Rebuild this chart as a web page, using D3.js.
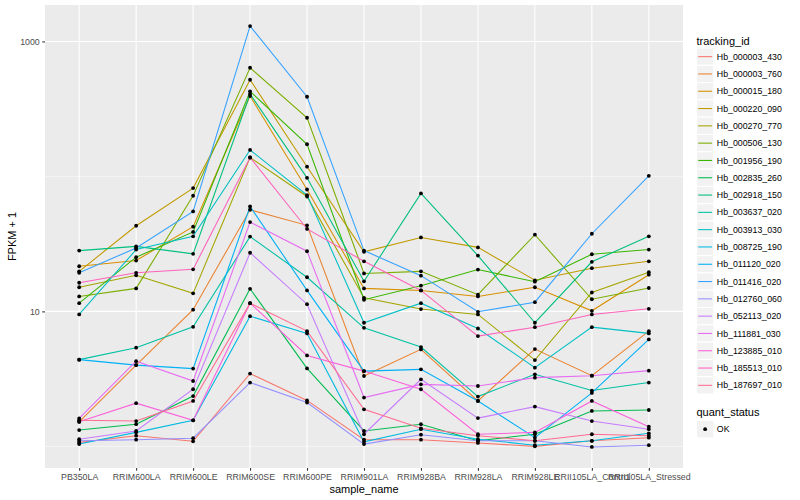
<!DOCTYPE html>
<html>
<head>
<meta charset="utf-8">
<script src="https://cdn.jsdelivr.net/npm/d3@7"></script>
<style>
body { margin: 0; background: #fff; }
text { font-family: "Liberation Sans", Arial, Helvetica, sans-serif; }
</style>
</head>
<body>
<svg id="chart"></svg>
<script>
const width = 800;
const height = 500;

const samples = ['PB350LA', 'RRIM600LA', 'RRIM600LE', 'RRIM600SE', 'RRIM600PE', 'RRIM901LA',
    'RRIM928BA', 'RRIM928LA', 'RRIM928LE', 'RRII105LA_Control', 'RRII105LA_Stressed'];

const trackingIds = ['Hb_000003_430', 'Hb_000003_760', 'Hb_000015_180', 'Hb_000220_090',
    'Hb_000270_770', 'Hb_000506_130', 'Hb_001956_190', 'Hb_002835_260', 'Hb_002918_150',
    'Hb_003637_020', 'Hb_003913_030', 'Hb_008725_190', 'Hb_011120_020', 'Hb_011416_020',
    'Hb_012760_060', 'Hb_052113_020', 'Hb_111881_030', 'Hb_123885_010', 'Hb_185513_010',
    'Hb_187697_010'];

// FPKM + 1, one value per sample (same order as samples)
const hb_000003_430 = [1.07, 1.20, 1.09, 3.46, 2.19, 1.12, 1.12, 1.06, 1.00, 1.10, 1.16];
const hb_000003_760 = [1.52, 4.00, 10.3, 56.6, 43.4, 3.32, 5.23, 2.17, 5.26, 3.34, 7.14];
const hb_000015_180 = [21.6, 23.8, 42.4, 394, 80.0, 14.8, 14.3, 12.9, 15.1, 10.1, 18.7];
const hb_000220_090 = [19.8, 43.1, 81.9, 520, 118, 27.6, 35.3, 29.8, 17.0, 20.9, 23.5];
const hb_000270_770 = [15.1, 18.5, 13.6, 138, 71.0, 12.6, 10.4, 9.49, 4.36, 13.8, 19.5];
const hb_000506_130 = [12.9, 14.8, 71.9, 638, 272, 19.1, 19.8, 13.3, 37.0, 12.3, 14.9];
const hb_001956_190 = [11.5, 25.2, 38.8, 427, 173, 12.2, 15.5, 20.4, 16.6, 26.5, 28.7];
const hb_002835_260 = [1.32, 1.46, 2.36, 14.7, 3.78, 1.30, 1.46, 1.10, 1.23, 1.83, 1.86];
const hb_002918_150 = [28.2, 30.3, 26.7, 408, 97.6, 16.7, 74.8, 25.9, 8.24, 23.3, 36.0];
const hb_003637_020 = [4.39, 5.38, 7.69, 35.8, 17.9, 7.56, 5.44, 2.34, 3.42, 2.59, 2.97];
const hb_003913_030 = [9.49, 28.7, 36.0, 157, 72.7, 8.24, 11.5, 7.47, 3.83, 7.64, 6.87];
const hb_008725_190 = [1.04, 1.27, 1.56, 9.21, 6.87, 1.08, 1.34, 1.13, 1.02, 1.10, 1.25];
const hb_011120_020 = [4.39, 4.00, 3.77, 59.9, 14.3, 3.61, 3.72, 2.17, 1.16, 2.49, 6.20];
const hb_011416_020 = [19.3, 29.5, 55.0, 1300, 389, 28.2, 18.4, 9.93, 11.7, 37.6, 101];
const hb_012760_060 = [1.10, 1.12, 1.15, 2.97, 2.11, 1.04, 1.22, 1.10, 1.10, 0.99, 1.02];
const hb_052113_020 = [1.13, 1.30, 2.65, 27.2, 11.3, 1.23, 3.14, 1.62, 1.97, 1.54, 1.34];
const hb_111881_030 = [1.61, 4.28, 3.05, 45.9, 27.9, 2.30, 2.88, 2.80, 3.23, 3.34, 3.64];
const hb_123885_010 = [1.52, 2.09, 1.56, 11.5, 4.72, 3.61, 2.65, 1.23, 1.27, 2.17, 1.40];
const hb_185513_010 = [16.3, 19.3, 20.5, 138, 40.8, 23.5, 14.3, 6.56, 7.64, 9.49, 10.45];
const hb_187697_010 = [1.56, 1.54, 2.17, 11.5, 7.14, 1.88, 1.36, 1.20, 1.10, 1.23, 1.20];

const seriesValues = [hb_000003_430, hb_000003_760, hb_000015_180, hb_000220_090, hb_000270_770,
    hb_000506_130, hb_001956_190, hb_002835_260, hb_002918_150, hb_003637_020, hb_003913_030,
    hb_008725_190, hb_011120_020, hb_011416_020, hb_012760_060, hb_052113_020, hb_111881_030,
    hb_123885_010, hb_185513_010, hb_187697_010];

const yMajorTicks = [10, 1000];
const yMinorTicks = [1, 100];

// ggplot hue palette for 20 levels
const palette = ['#F8766D', '#EA8331', '#D89000', '#C09B00', '#A3A500', '#7CAE00', '#39B600',
    '#00BB4E', '#00BF7D', '#00C1A3', '#00BFC4', '#00BAE0', '#00B0F6', '#35A2FF', '#9590FF',
    '#C77CFF', '#E76BF3', '#FA62DB', '#FF62BC', '#FF6C91'];

const panel = { left: 45, right: 683, top: 5, bottom: 468 };

var svg = d3.select('#chart')
    .attr('width', width)
    .attr('height', height);

var series = trackingIds.map((id, i) => ({
    id: id,
    color: palette[i],
    points: samples.map((s, j) => ({ sample: s, value: seriesValues[i][j] }))
}));

// log10 limits with 5% expansion like ggplot
var allValues = seriesValues.flat();
var lo = Math.log10(d3.min(allValues));
var hi = Math.log10(d3.max(allValues));
var pad = (hi - lo) * 0.05;

var x = d3.scalePoint()
    .domain(samples)
    .range([panel.left, panel.right])
    .padding(0.6);

var y = d3.scaleLog()
    .domain([Math.pow(10, lo - pad), Math.pow(10, hi + pad)])
    .range([panel.bottom, panel.top]);

// Panel background
svg.append('rect')
    .attr('x', panel.left)
    .attr('y', panel.top)
    .attr('width', panel.right - panel.left)
    .attr('height', panel.bottom - panel.top)
    .attr('fill', '#EBEBEB');

// Grid lines
svg.append('g').selectAll('line')
    .data(yMinorTicks)
    .enter().append('line')
    .attr('x1', panel.left).attr('x2', panel.right)
    .attr('y1', d => y(d)).attr('y2', d => y(d))
    .attr('stroke', 'white').attr('stroke-width', 0.53);

svg.append('g').selectAll('line')
    .data(yMajorTicks)
    .enter().append('line')
    .attr('x1', panel.left).attr('x2', panel.right)
    .attr('y1', d => y(d)).attr('y2', d => y(d))
    .attr('stroke', 'white').attr('stroke-width', 1.07);

svg.append('g').selectAll('line')
    .data(samples)
    .enter().append('line')
    .attr('x1', d => x(d)).attr('x2', d => x(d))
    .attr('y1', panel.top).attr('y2', panel.bottom)
    .attr('stroke', 'white').attr('stroke-width', 1.07);

// Lines, one per tracking id
var line = d3.line()
    .x(d => x(d.sample))
    .y(d => y(d.value));

svg.append('g').selectAll('path')
    .data(series)
    .enter().append('path')
    .attr('d', d => line(d.points))
    .attr('fill', 'none')
    .attr('stroke', d => d.color)
    .attr('stroke-width', 1.07);

// Points (quant_status = OK)
svg.append('g').selectAll('circle')
    .data(series.flatMap(d => d.points))
    .enter().append('circle')
    .attr('cx', d => x(d.sample))
    .attr('cy', d => y(d.value))
    .attr('r', 1.9)
    .attr('fill', 'black');

// Axes
var yAxis = svg.append('g')
    .attr('transform', `translate(${panel.left},0)`)
    .call(d3.axisLeft(y).tickValues(yMajorTicks).tickFormat(d3.format('d'))
        .tickSize(2.75).tickPadding(2.5));

var xAxis = svg.append('g')
    .attr('transform', `translate(0,${panel.bottom})`)
    .call(d3.axisBottom(x).tickSize(2.75).tickPadding(3.5));

for (let ax of [xAxis, yAxis]) {
    ax.select('.domain').remove();
    ax.selectAll('.tick line').attr('stroke', '#333333').attr('stroke-width', 1.07);
    ax.selectAll('.tick text')
        .attr('fill', '#4D4D4D')
        .style('font-size', '8.8px')
        .style('font-family', '"Liberation Sans", Arial, sans-serif');
}

// Axis titles
svg.append('text')
    .attr('x', (panel.left + panel.right) / 2)
    .attr('y', 493)
    .attr('text-anchor', 'middle')
    .style('font-size', '11px')
    .text('sample_name');

svg.append('text')
    .attr('transform', `translate(15.5,${(panel.top + panel.bottom) / 2}) rotate(-90)`)
    .attr('text-anchor', 'middle')
    .style('font-size', '11px')
    .text('FPKM + 1');

// Legend: tracking_id
var legendX = 696.5;
var keySize = 17.3;
var legendTop = 48;

svg.append('text')
    .attr('x', legendX)
    .attr('y', 44.5)
    .style('font-size', '11px')
    .text('tracking_id');

var keys = svg.append('g').selectAll('g')
    .data(series)
    .enter().append('g')
    .attr('transform', (d, i) => `translate(${legendX},${legendTop + i * keySize})`);

keys.append('rect')
    .attr('width', keySize).attr('height', keySize)
    .attr('fill', '#F2F2F2')
    .attr('stroke', 'white').attr('stroke-width', 1.07);

keys.append('line')
    .attr('x1', 1.7).attr('x2', keySize - 1.7)
    .attr('y1', keySize / 2).attr('y2', keySize / 2)
    .attr('stroke', d => d.color)
    .attr('stroke-width', 1.07);

keys.append('text')
    .attr('x', keySize + 3)
    .attr('y', keySize / 2)
    .attr('dy', '0.35em')
    .style('font-size', '8.8px')
    .text(d => d.id);

// Legend: quant_status
svg.append('text')
    .attr('x', legendX)
    .attr('y', 416)
    .style('font-size', '11px')
    .text('quant_status');

var okKey = svg.append('g')
    .attr('transform', `translate(${legendX},420.5)`);

okKey.append('rect')
    .attr('width', keySize).attr('height', keySize)
    .attr('fill', '#F2F2F2')
    .attr('stroke', 'white').attr('stroke-width', 1.07);

okKey.append('circle')
    .attr('cx', keySize / 2).attr('cy', keySize / 2)
    .attr('r', 1.9).attr('fill', 'black');

okKey.append('text')
    .attr('x', keySize + 3)
    .attr('y', keySize / 2)
    .attr('dy', '0.35em')
    .style('font-size', '8.8px')
    .text('OK');
</script>
</body>
</html>
